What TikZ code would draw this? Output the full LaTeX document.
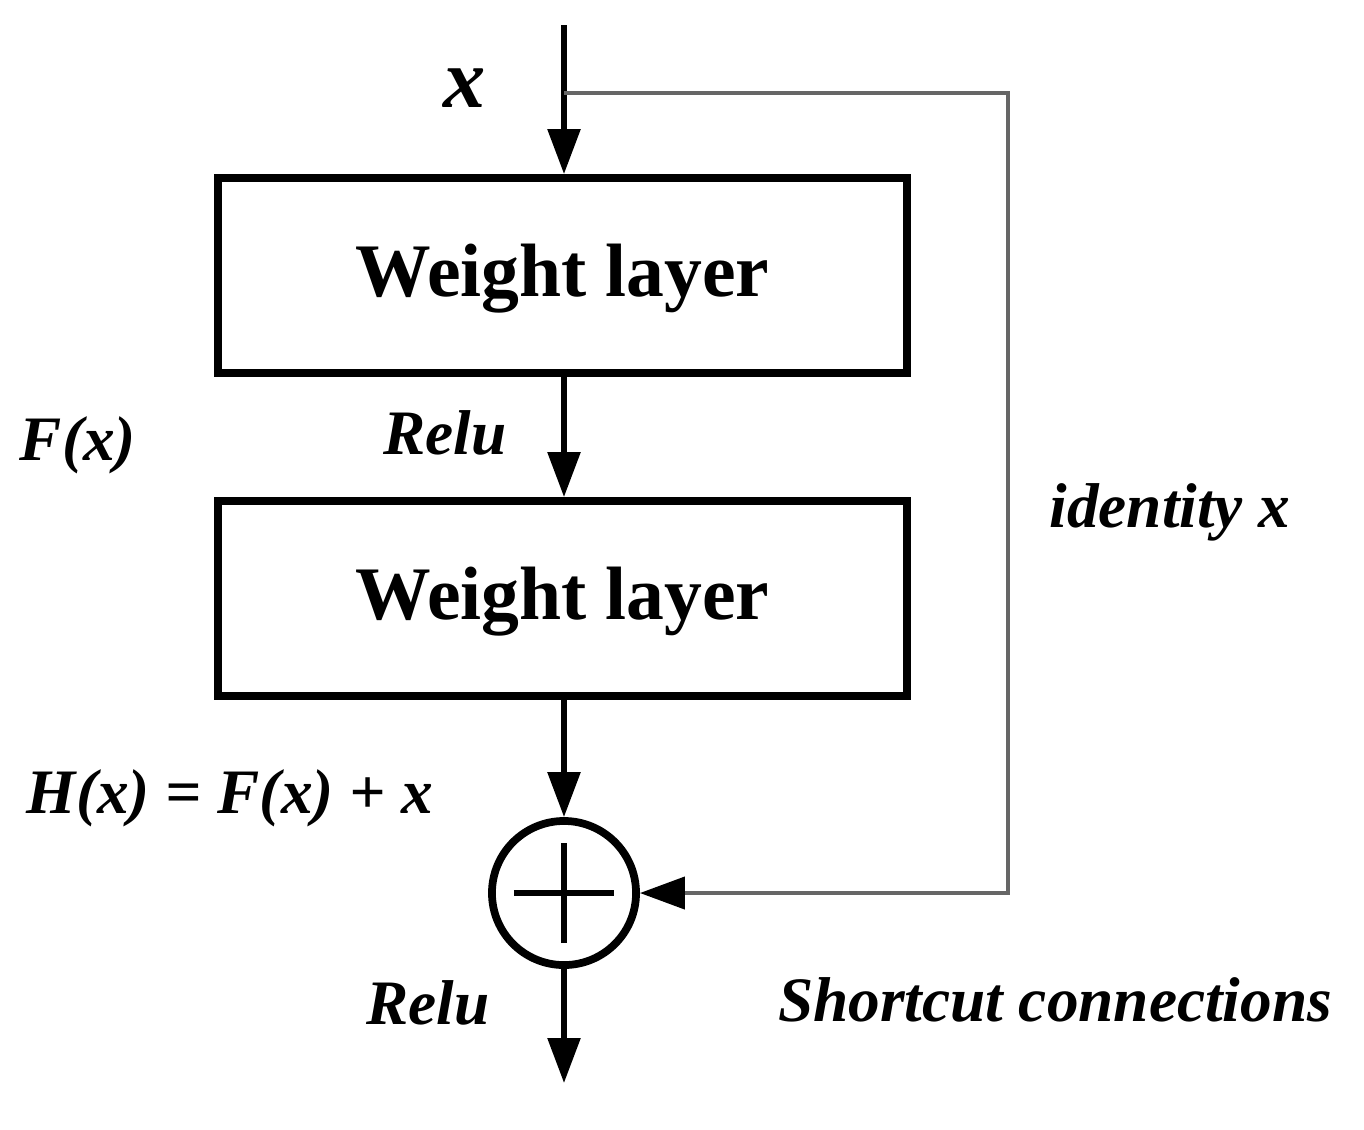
\documentclass[tikz,border=0pt]{standalone}
\usepackage{fontspec}
\setmainfont{Liberation Serif}
\usetikzlibrary{arrows.meta}
\begin{document}
\begin{tikzpicture}[x=0.01cm,y=-0.01cm,
  box/.style={draw,line width=2.2pt,minimum width=6.89cm,minimum height=1.95cm,inner sep=0pt,text depth=0.1cm,font=\fontsize{21.5}{24}\selectfont\bfseries},
  arr/.style={line width=1.6pt,-{Triangle[length=4.5mm,width=3.2mm]}},
  lbl/.style={font=\fontsize{18}{22}\selectfont\bfseries\itshape},
  sc/.style={draw=gray!80!black,line width=1.2pt,-{Triangle[length=4.5mm,width=3.2mm,color=black]}}]
\useasboundingbox (0,0) rectangle (1364,1129);
\coordinate (top) at (564,25);
\coordinate (split) at (564,93);
\coordinate (c1) at (1008,93);
\coordinate (c2) at (1008,893);
\coordinate (out) at (564,1083);
\node[box] (w1) at (562.5,275.5) {Weight layer};
\node[box] (w2) at (562.5,598.5) {Weight layer};
\node[draw,circle,line width=2.2pt,minimum size=1.44cm,inner sep=0pt] (sum) at (564,893) {};
\draw[line width=1.6pt] ([xshift=-0.5cm]sum.center) -- ([xshift=0.5cm]sum.center);
\draw[line width=1.6pt] ([yshift=-0.5cm]sum.center) -- ([yshift=0.5cm]sum.center);
\draw[arr] (top) -- (w1.north -| top);
\draw[arr] (w1.south -| top) -- (w2.north -| top);
\draw[arr] (w2.south -| top) -- (sum.north);
\draw[arr] (sum.south) -- (out);
\draw[sc] (split) -- (c1) -- (c2) -- (sum.east);
\node[lbl,font=\fontsize{24}{28}\selectfont\bfseries\itshape] (lx) at (465,88) {x};
\node[lbl] (lf) at (78,445) {F(x)};
\node[lbl] (lr1) at (445,433) {Relu};
\node[lbl] (li) at (1170,512) {identity x};
\node[lbl] (lh) at (230,798) {H(x) = F(x) + x};
\node[lbl] (lr2) at (428,1003) {Relu};
\node[lbl] (ls) at (1055,1000) {Shortcut connections};
\end{tikzpicture}
\end{document}
